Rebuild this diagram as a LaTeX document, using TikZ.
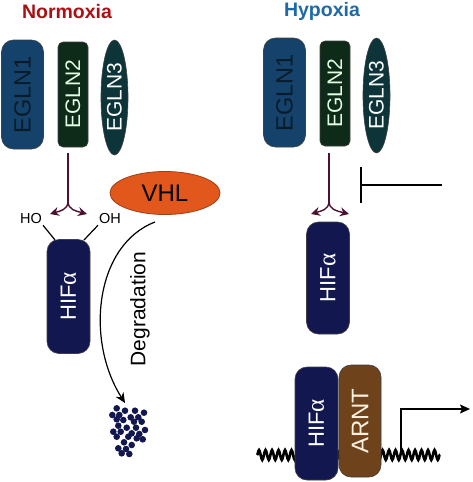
\documentclass[tikz,border=0pt]{standalone}
\usepackage{fontspec}
\setmainfont{Liberation Sans}
\newfontfamily\greekfont{Liberation Serif}
\usepackage{tikz}
\usetikzlibrary{arrows.meta}
\usetikzlibrary{shapes.geometric}
\usetikzlibrary{decorations.pathmorphing}
\usetikzlibrary{calc}

\definecolor{normred}{RGB}{170,16,20}
\definecolor{hypblue}{RGB}{30,106,166}
\definecolor{eglnone}{RGB}{20,66,106}
\definecolor{eglntwo}{RGB}{14,42,24}
\definecolor{eglnthree}{RGB}{13,53,57}
\definecolor{hifblue}{RGB}{18,23,80}
\definecolor{vhlorange}{RGB}{226,88,28}
\definecolor{arntbrown}{RGB}{110,66,26}
\definecolor{hydroxy}{RGB}{76,16,48}

\newcommand{\hifa}{HIF{\greekfont\fontsize{25}{25}\selectfont α}}

\begin{document}
\begin{tikzpicture}[x=1pt, y=-1pt]
\tikzstyle{prot}=[rotate=90, inner sep=0pt, draw=black!75, line width=0.6pt];
\tikzstyle{eglnone}=[prot, rounded corners=12pt, fill=eglnone, text=eglnone!40!black,
                     minimum width=109pt, minimum height=42pt, font=\fontsize{23.5}{24}\selectfont];
\tikzstyle{eglntwo}=[prot, rounded corners=5pt, fill=eglntwo, text=white!90!green,
                     minimum width=105pt, minimum height=30pt, font=\fontsize{21}{22}\selectfont];
\tikzstyle{eglnthree}=[prot, ellipse, fill=eglnthree, text=white,
                     minimum width=115pt, minimum height=27pt, font=\fontsize{21}{22}\selectfont];
\tikzstyle{hif}=[prot, rounded corners=12pt, fill=hifblue, text=white,
                     minimum width=114pt, minimum height=43pt, font=\fontsize{22}{22}\selectfont];
\tikzstyle{hydro}=[draw=hydroxy, line width=1.4pt];
\tikzstyle{tip}=[-{Stealth[length=9pt,width=9pt,inset=3pt]}];
\useasboundingbox (0,0) rectangle (472,482);

% dna first, the factors sit on it
\coordinate (dnaL) at (257,455);
\coordinate (dnaR) at (440,455);
\draw[decorate, decoration={snake, amplitude=5pt, segment length=6.5pt},
      line width=2.6pt] (dnaL) -- (dnaR);

\node[text=normred, font=\bfseries\fontsize{19.5}{20}\selectfont] (normoxia) at (67,12) {Normoxia};
\node[text=hypblue, font=\bfseries\fontsize{19.5}{20}\selectfont] (hypoxia) at (322,11) {Hypoxia};

% normoxia
\node[eglnone] (egln1l) at (22.5,94.5) {EGLN1};
\node[eglntwo] (egln2l) at (73,94.5) {EGLN2};
\node[eglnthree] (egln3l) at (114.5,97.5) {EGLN3};
\node[fill=vhlorange, draw=vhlorange!70!black, line width=0.8pt, ellipse, inner sep=0pt,
      minimum width=110pt, minimum height=43pt, font=\fontsize{24}{24}\selectfont] (vhl) at (165,193) {VHL};
\node[font=\fontsize{14.5}{15}\selectfont, inner sep=1pt] (ho) at (31,219) {HO};
\node[font=\fontsize{14.5}{15}\selectfont, inner sep=1pt] (oh) at (110,219) {OH};
\node[hif] (hifl) at (68.5,296.5) {\hifa};
\draw[line width=1.2pt] (ho.south east) -- ($(hifl.center)+(-13.5,-56.5)$);
\draw[line width=1.2pt] (oh.south west) -- ($(hifl.center)+(15.5,-56.5)$);

\coordinate (stemL) at (68,153);
\coordinate (forkL) at (68,201);
\draw[hydro] (stemL) -- (forkL);
\draw[hydro, tip, hydroxy] (forkL) .. controls (68,210) and (60,211) .. (50,214);
\draw[hydro, tip, hydroxy] (forkL) .. controls (68,210) and (76,211) .. (87,214);

\node[rotate=90, font=\fontsize{21}{22}\selectfont] (degr) at (140,309) {Degradation};
\coordinate (degStart) at (155,222);
\coordinate (debris) at (125,403);
\draw[line width=1.2pt, -{Stealth[length=10pt,width=9pt,inset=3pt]}]
     (degStart) .. controls (95,245) and (85,340) .. (debris);
\foreach \x/\y in {116.7/408.3, 125/410.7, 135/410.7, 144/412.7, 112.3/415, 119.3/415,
                   130.7/417.3, 138.3/417.3, 116.7/419.3, 123.3/420, 134/421.7, 141.7/421.7,
                   118.3/425.7, 126.7/427.7, 136/427.7, 145/430, 113.3/431.7, 120.7/431.7,
                   131.7/433.3, 139.3/434, 116.7/436.7, 128.3/436.7, 136.7/438.3, 142.7/439.3,
                   124/442.3, 131.7/445, 118.3/448.3, 126/449, 121.7/453.3, 129.3/454}
{\fill[hifblue] (\x,\y) circle (3.3pt);}

% hypoxia
\node[eglnone] (egln1r) at (284.5,92.5) {EGLN1};
\node[eglntwo] (egln2r) at (335,93.5) {EGLN2};
\node[eglnthree] (egln3r) at (376.5,95.5) {EGLN3};
\node[hif, minimum width=112pt] (hifr) at (328,278) {\hifa};

\coordinate (stemR) at (329,153);
\coordinate (forkR) at (329,201);
\draw[hydro] (stemR) -- (forkR);
\draw[hydro, tip, hydroxy] (forkR) .. controls (329,210) and (321,211) .. (311,214);
\draw[hydro, tip, hydroxy] (forkR) .. controls (329,210) and (337,211) .. (349,214);

\coordinate (inhFrom) at (442,185);
\coordinate (inhTo) at (360,185);
\draw[line width=2.4pt, -{Bar[width=36pt]}] (inhFrom) -- (inhTo);

\node[hif, minimum width=113pt] (hifb) at (316.5,423.5) {\hifa};
\node[prot, rounded corners=12pt, fill=arntbrown, text=white!88!orange,
      minimum width=112pt, minimum height=42pt, font=\fontsize{24}{24}\selectfont] (arnt) at (360,421) {ARNT};

\coordinate (tss) at (401,455);
\coordinate (txEnd) at (470,409);
\draw[line width=1.5pt, -{Stealth[length=10pt,width=9pt,inset=2pt]}] (tss) |- (txEnd);
\end{tikzpicture}
\end{document}
